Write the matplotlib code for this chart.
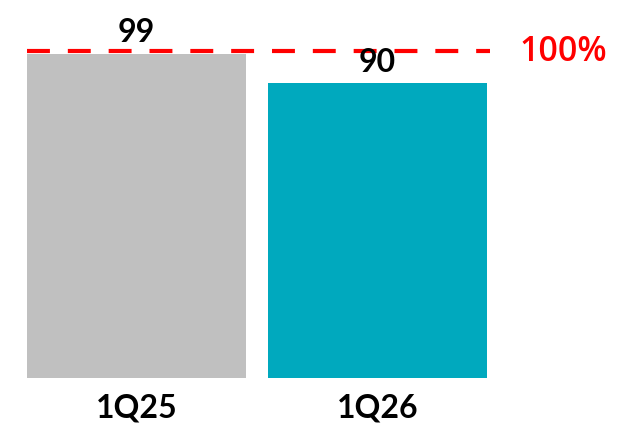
import matplotlib.pyplot as plt

# quarterly values against a 100% target
quarters = ['1Q25', '1Q26']
values = [99, 90]
bar_colors = ['#C0C0C0', '#00A9BE']
target = 100
target_label = '100%'

fig = plt.figure(figsize=(6.35, 4.27), dpi=100)
ax = fig.add_axes([0, 48 / 427, 1, 379 / 427])

px_per_unit = 3.273
ax.set_ylim(0, 379 / px_per_unit)
ax.set_xlim(-136.5 / 241, (635 - 136.5) / 241)

x = list(range(len(quarters)))
ax.bar(x, values, width=219 / 241, color=bar_colors)

for xi, v in zip(x, values):
    ax.annotate(str(v), (xi, v), xytext=(0, 9), textcoords='offset points',
                ha='center', va='baseline', fontsize=23, fontweight='bold',
                family='Lato', color='black')

for xi, q in zip(x, quarters):
    ax.annotate(q, (xi, 0), xytext=(0, -28), textcoords='offset points',
                ha='center', va='baseline', fontsize=23, fontweight='bold',
                family='Lato', color='black', annotation_clip=False)

# dashed target line with its label at the right
ax.plot([-0.455, 1.467], [target, target], color='#FF0000', lw=3,
        dashes=(5.5, 4.3), solid_capstyle='butt', dash_capstyle='butt')
ax.text(1.591, target, target_label, color='#FF0000', fontsize=24.5,
        fontweight='semibold', family='Open Sans', ha='left', va='center')

ax.axis('off')
fig.savefig('out.png', dpi=100)
